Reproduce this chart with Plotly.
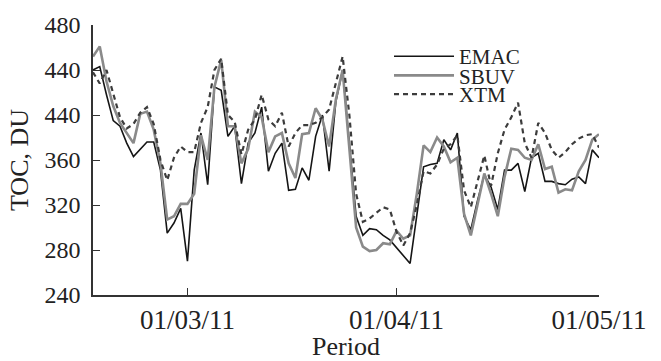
import pandas as pd
import plotly.graph_objects as go

dates = pd.date_range("2011-02-15", "2011-05-01", freq="D")

emac = [440, 443, 418, 395, 390, 375, 363, 370, 376, 376, 351, 295, 304, 317, 270, 351, 384, 338, 425, 422,
        381, 390, 339, 375, 384, 407, 350, 366, 375, 333, 334, 353, 342, 381, 400, 350, 412, 440,
        372, 310, 293, 299, 298, 293, 289, 282, 275, 268, 311, 354, 356, 357, 378, 369, 384, 310,
        298, 324, 347, 336, 316, 351, 351, 357, 332, 362, 366, 341, 341, 339, 338, 343, 345, 339, 369, 362]

sbuv = [452, 461, 430, 408, 393, 384, 375, 401, 403, 387, 357, 307, 310, 321, 321, 330, 382, 360, 425, 449,
        390, 390, 357, 370, 403, 398, 367, 381, 384, 357, 344, 383, 384, 406, 396, 372, 414, 440,
        370, 300, 283, 279, 280, 286, 285, 297, 290, 293, 330, 373, 367, 380, 372, 358, 362, 312,
        293, 320, 348, 330, 310, 345, 370, 369, 362, 360, 374, 352, 354, 331, 334, 333, 350, 360, 378, 383]

xtm = [438, 428, 440, 420, 398, 388, 392, 402, 407, 392, 360, 342, 362, 372, 367, 367, 393, 407, 440, 450,
       400, 394, 365, 387, 396, 418, 396, 390, 402, 372, 384, 391, 391, 393, 398, 405, 428, 452,
       400, 330, 305, 308, 313, 318, 316, 296, 284, 295, 320, 350, 348, 356, 370, 374, 382, 333,
       318, 340, 364, 337, 366, 387, 398, 411, 375, 362, 393, 384, 369, 362, 367, 374, 379, 382, 383, 371]

y_tick_vals = [240, 280, 320, 360, 400, 440, 480]
y_tick_text = ["240", "280", "320", "360", "440", "440", "480"]
x_tick_vals = ["2011-03-01", "2011-04-01", "2011-05-01"]
x_tick_text = ["01/03/11", "01/04/11", "01/05/11"]

FONT = "Liberation Serif"

fig = go.Figure()
fig.add_trace(go.Scatter(x=dates, y=emac, mode="lines", name="EMAC",
                         line=dict(color="#151515", width=1.6), legend="legend"))
fig.add_trace(go.Scatter(x=dates, y=sbuv, mode="lines", name="SBUV",
                         line=dict(color="#8a8a8a", width=2.6), legend="legend2"))
fig.add_trace(go.Scatter(x=dates, y=xtm, mode="lines", name="XTM",
                         line=dict(color="#3c3c3c", width=2.2, dash="5px,4px"), legend="legend3"))

leg_common = dict(font=dict(family=FONT, size=21, color="#222"), bgcolor="rgba(0,0,0,0)",
                  itemwidth=60, xanchor="left", yanchor="middle", x=0.585,
                  tracegroupgap=0, borderwidth=0)

fig.update_layout(
    width=661, height=361,
    margin=dict(l=93, r=62, t=25, b=66, autoexpand=False),
    paper_bgcolor="white", plot_bgcolor="white",
    font=dict(family=FONT, color="#222"),
    showlegend=True,
    legend=dict(**leg_common, y=0.883),
    legend2=dict(**leg_common, y=0.812),
    legend3=dict(**leg_common, y=0.743),
    xaxis=dict(
        type="date", range=["2011-02-15", "2011-05-01"],
        tickvals=x_tick_vals, ticktext=x_tick_text,
        ticks="inside", ticklen=7, tickwidth=1.3, tickcolor="#333",
        showline=True, linecolor="#333", linewidth=1.5,
        showgrid=False, zeroline=False, automargin=False,
        tickfont=dict(family=FONT, size=27, color="#222"),
        title=dict(text="Period", font=dict(family=FONT, size=26, color="#222"), standoff=10),
    ),
    yaxis=dict(
        range=[240, 480],
        tickvals=y_tick_vals, ticktext=y_tick_text,
        ticks="inside", ticklen=7, tickwidth=1.3, tickcolor="#333",
        showline=True, linecolor="#333", linewidth=1.5,
        showgrid=False, zeroline=False, automargin=False,
        tickfont=dict(family=FONT, size=24, color="#222"),
        ticklabelstandoff=6,
        title=dict(text="TOC, DU", font=dict(family=FONT, size=26, color="#222"), standoff=8),
    ),
)

fig.write_html("out.html")
